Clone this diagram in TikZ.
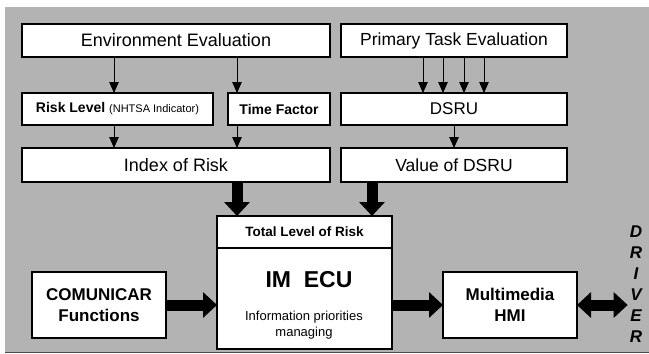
\documentclass[tikz,border=0pt]{standalone}
\usepackage{fontspec}
\setmainfont{Liberation Sans}
\usetikzlibrary{arrows.meta}
\definecolor{panelgray}{RGB}{179,179,179}
\begin{document}
\begin{tikzpicture}[x=1pt,y=-1pt,
  box/.style={draw, fill=white, line width=1.1pt, anchor=north west, inner sep=0pt, outer sep=0pt, align=center},
  thinarr/.style={line width=0.9pt, -{Triangle[length=11pt,width=9.5pt]}},
  fatarr/.style={line width=11pt, -{Triangle[length=14pt,width=25pt]}}]
\useasboundingbox (0,0) rectangle (649,354);
\fill[panelgray] (5,7) rectangle (649,352);
\draw[line width=1pt, black!70] (5,352) -- (649,352);
\node[box, minimum width=308pt, minimum height=33pt, font=\fontsize{18}{20}\selectfont] (env) at (22,24) {Environment Evaluation};
\node[box, minimum width=226pt, minimum height=33pt, font=\fontsize{17.5}{20}\selectfont] (primary) at (341,24) {Primary Task Evaluation};
\node[box, minimum width=191pt, minimum height=32pt, font=\fontsize{14}{16}\selectfont] (risk) at (22,93) {\textbf{Risk Level} {\fontsize{11}{13}\selectfont(NHTSA Indicator)}};
\node[box, minimum width=102pt, minimum height=32pt, font=\fontsize{14}{16}\selectfont\bfseries] (tf) at (228,93) {Time Factor};
\node[box, minimum width=226pt, minimum height=32pt, font=\fontsize{17}{20}\selectfont] (dsru) at (341,93) {DSRU};
\node[box, minimum width=308pt, minimum height=34pt, font=\fontsize{18}{20}\selectfont] (idx) at (22,148) {Index of Risk};
\node[box, minimum width=226pt, minimum height=34pt, font=\fontsize{17.5}{20}\selectfont] (val) at (341,148) {Value of DSRU};
\node[box, minimum width=175pt, minimum height=133pt] (ecu) at (217,216) {};
\node[box, anchor=north, minimum width=175pt, minimum height=32pt, font=\fontsize{13.5}{16}\selectfont\bfseries] (tlr) at (ecu.north) {Total Level of Risk};
\node[font=\fontsize{23}{28}\selectfont\bfseries] (imecu) at (309,280) {IM\ \ ECU};
\node[align=center, font=\fontsize{13}{16}\selectfont] (info) at (304,325) {Information priorities\\managing};
\node[box, minimum width=134pt, minimum height=66pt, font=\fontsize{17}{21}\selectfont\bfseries] (com) at (32,272) {COMUNICAR\\Functions};
\node[box, minimum width=134pt, minimum height=66pt, font=\fontsize{17}{21}\selectfont\bfseries] (hmi) at (443,272) {Multimedia\\HMI};
\node[align=center, inner sep=2pt, font=\fontsize{17}{21}\selectfont\bfseries\itshape] (drv) at (636,284) {D\\R\\I\\V\\E\\R};
\draw[thinarr] ([xshift=-3.5pt]risk.north |- env.south) -- ([xshift=-3.5pt]risk.north);
\draw[thinarr] ([xshift=9pt]tf.north west |- env.south) -- ([xshift=9pt]tf.north west);
\draw[thinarr] ([xshift=-3.5pt]risk.south) -- ([xshift=-3.5pt]risk.south |- idx.north);
\draw[thinarr] ([xshift=9pt]tf.south west) -- ([xshift=9pt]tf.south west |- idx.north);
\foreach \dx in {-31,-11,10,30}
  \draw[thinarr] ([xshift=\dx pt]primary.south) -- ([xshift=\dx pt]dsru.north);
\draw[thinarr] (dsru.south) -- (val.north);
\draw[fatarr] ([xshift=20pt]ecu.north west |- idx.south) -- ([xshift=20pt]ecu.north west);
\draw[fatarr] ([xshift=-20pt]ecu.north east |- val.south) -- ([xshift=-20pt]ecu.north east);
\draw[fatarr] (com.east) -- (com.east -| ecu.west);
\draw[fatarr] (hmi.west -| ecu.east) -- (hmi.west);
\draw[line width=11pt, {Triangle[length=14pt,width=25pt]}-{Triangle[length=14pt,width=25pt]}] (hmi.east) -- (hmi.east -| drv.west);
\end{tikzpicture}
\end{document}
